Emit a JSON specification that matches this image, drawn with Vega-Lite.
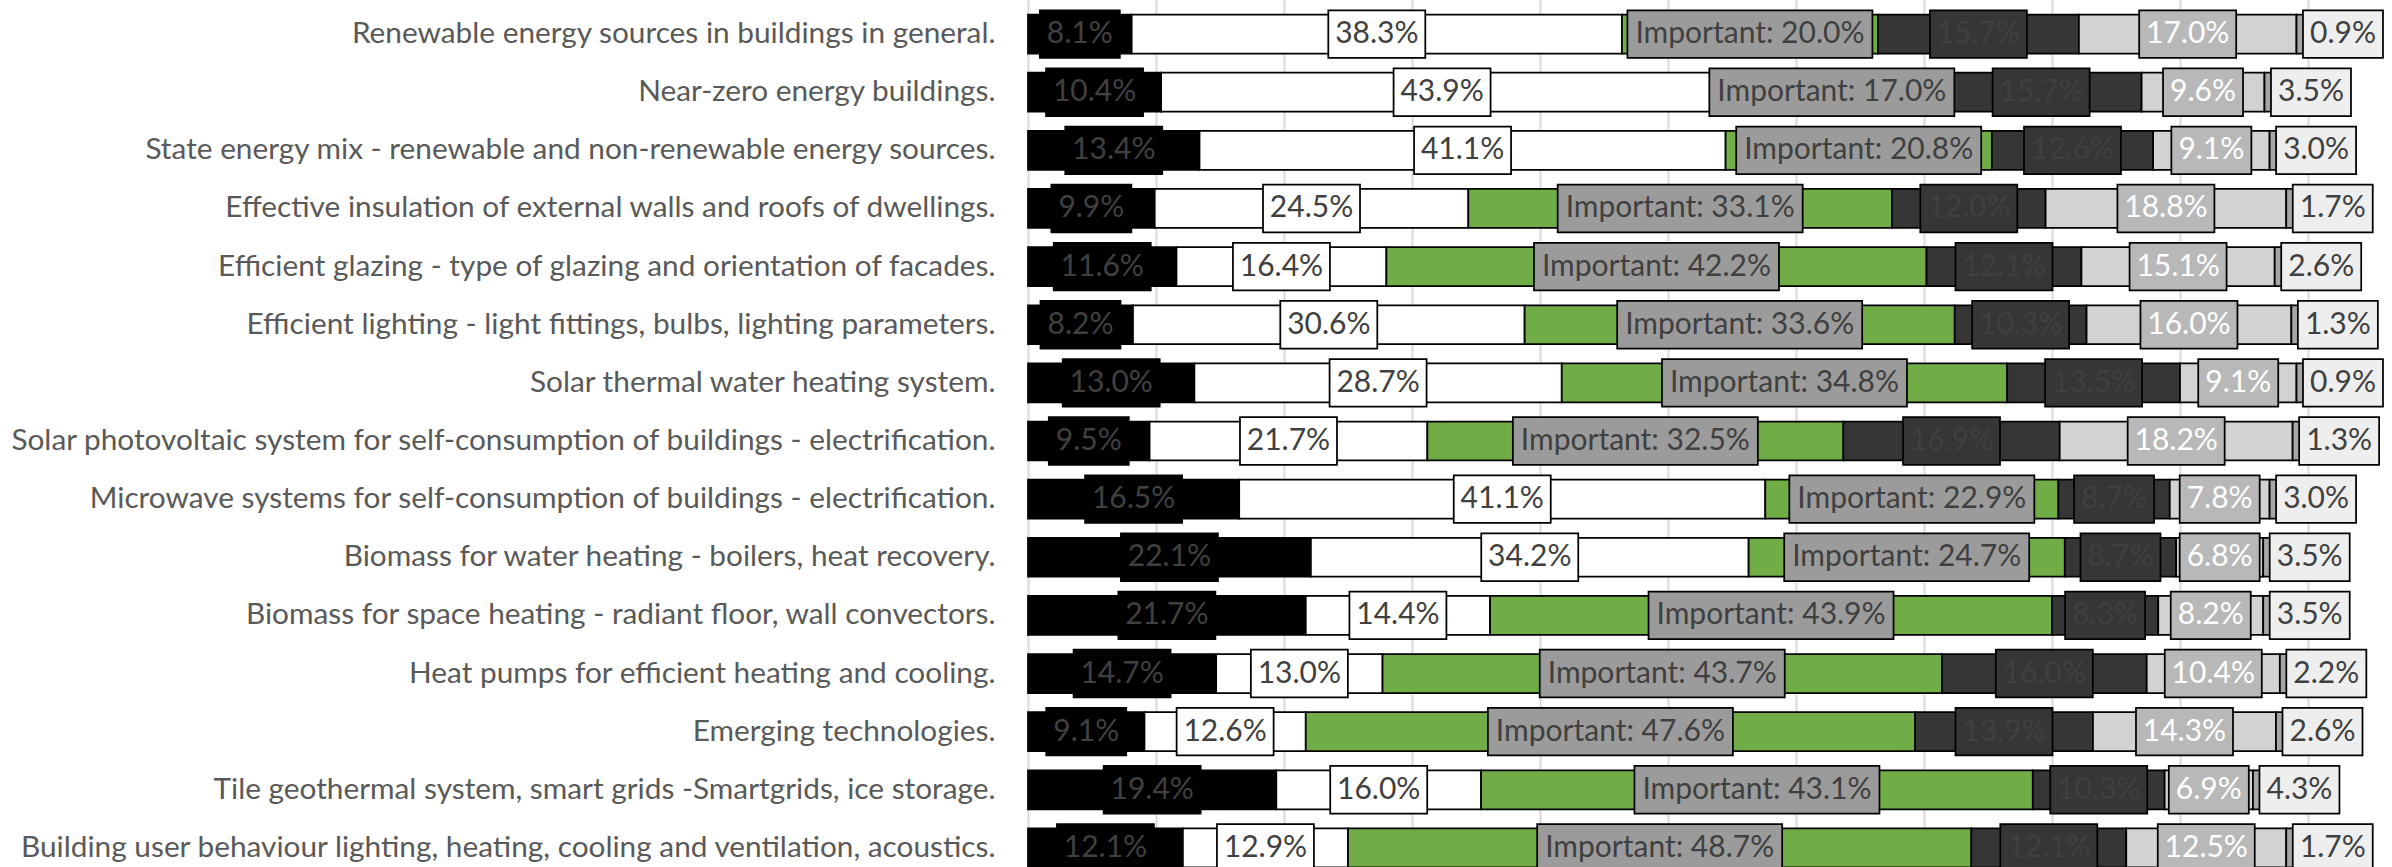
{
  "$schema": "https://vega.github.io/schema/vega-lite/v6.json",
  "width": 1280,
  "height": 862,
  "autosize": {"type": "none"},
  "padding": {"left": 1028, "right": 84, "top": 5, "bottom": 0},
  "background": "white",
  "config": {"view": {"stroke": null}, "font": "Lato"},
  "datasets": {
    "survey": [
      {"task": "Renewable energy sources in buildings in general.", "cat": "Not important", "v": 8.1},
      {"task": "Renewable energy sources in buildings in general.", "cat": "Slightly important", "v": 38.3},
      {"task": "Renewable energy sources in buildings in general.", "cat": "Important", "v": 20.0},
      {"task": "Renewable energy sources in buildings in general.", "cat": "Very important", "v": 15.7},
      {"task": "Renewable energy sources in buildings in general.", "cat": "Essential", "v": 17.0},
      {"task": "Renewable energy sources in buildings in general.", "cat": "No answer", "v": 0.9},
      {"task": "Near-zero energy buildings.", "cat": "Not important", "v": 10.4},
      {"task": "Near-zero energy buildings.", "cat": "Slightly important", "v": 43.9},
      {"task": "Near-zero energy buildings.", "cat": "Important", "v": 17.0},
      {"task": "Near-zero energy buildings.", "cat": "Very important", "v": 15.7},
      {"task": "Near-zero energy buildings.", "cat": "Essential", "v": 9.6},
      {"task": "Near-zero energy buildings.", "cat": "No answer", "v": 3.5},
      {"task": "State energy mix - renewable and non-renewable energy sources.", "cat": "Not important", "v": 13.4},
      {"task": "State energy mix - renewable and non-renewable energy sources.", "cat": "Slightly important", "v": 41.1},
      {"task": "State energy mix - renewable and non-renewable energy sources.", "cat": "Important", "v": 20.8},
      {"task": "State energy mix - renewable and non-renewable energy sources.", "cat": "Very important", "v": 12.6},
      {"task": "State energy mix - renewable and non-renewable energy sources.", "cat": "Essential", "v": 9.1},
      {"task": "State energy mix - renewable and non-renewable energy sources.", "cat": "No answer", "v": 3.0},
      {"task": "Effective insulation of external walls and roofs of dwellings.", "cat": "Not important", "v": 9.9},
      {"task": "Effective insulation of external walls and roofs of dwellings.", "cat": "Slightly important", "v": 24.5},
      {"task": "Effective insulation of external walls and roofs of dwellings.", "cat": "Important", "v": 33.1},
      {"task": "Effective insulation of external walls and roofs of dwellings.", "cat": "Very important", "v": 12.0},
      {"task": "Effective insulation of external walls and roofs of dwellings.", "cat": "Essential", "v": 18.8},
      {"task": "Effective insulation of external walls and roofs of dwellings.", "cat": "No answer", "v": 1.7},
      {"task": "Efficient glazing - type of glazing and orientation of facades.", "cat": "Not important", "v": 11.6},
      {"task": "Efficient glazing - type of glazing and orientation of facades.", "cat": "Slightly important", "v": 16.4},
      {"task": "Efficient glazing - type of glazing and orientation of facades.", "cat": "Important", "v": 42.2},
      {"task": "Efficient glazing - type of glazing and orientation of facades.", "cat": "Very important", "v": 12.1},
      {"task": "Efficient glazing - type of glazing and orientation of facades.", "cat": "Essential", "v": 15.1},
      {"task": "Efficient glazing - type of glazing and orientation of facades.", "cat": "No answer", "v": 2.6},
      {"task": "Efficient lighting - light fittings, bulbs, lighting parameters.", "cat": "Not important", "v": 8.2},
      {"task": "Efficient lighting - light fittings, bulbs, lighting parameters.", "cat": "Slightly important", "v": 30.6},
      {"task": "Efficient lighting - light fittings, bulbs, lighting parameters.", "cat": "Important", "v": 33.6},
      {"task": "Efficient lighting - light fittings, bulbs, lighting parameters.", "cat": "Very important", "v": 10.3},
      {"task": "Efficient lighting - light fittings, bulbs, lighting parameters.", "cat": "Essential", "v": 16.0},
      {"task": "Efficient lighting - light fittings, bulbs, lighting parameters.", "cat": "No answer", "v": 1.3},
      {"task": "Solar thermal water heating system.", "cat": "Not important", "v": 13.0},
      {"task": "Solar thermal water heating system.", "cat": "Slightly important", "v": 28.7},
      {"task": "Solar thermal water heating system.", "cat": "Important", "v": 34.8},
      {"task": "Solar thermal water heating system.", "cat": "Very important", "v": 13.5},
      {"task": "Solar thermal water heating system.", "cat": "Essential", "v": 9.1},
      {"task": "Solar thermal water heating system.", "cat": "No answer", "v": 0.9},
      {"task": "Solar photovoltaic system for self-consumption of buildings - electrification.", "cat": "Not important", "v": 9.5},
      {"task": "Solar photovoltaic system for self-consumption of buildings - electrification.", "cat": "Slightly important", "v": 21.7},
      {"task": "Solar photovoltaic system for self-consumption of buildings - electrification.", "cat": "Important", "v": 32.5},
      {"task": "Solar photovoltaic system for self-consumption of buildings - electrification.", "cat": "Very important", "v": 16.9},
      {"task": "Solar photovoltaic system for self-consumption of buildings - electrification.", "cat": "Essential", "v": 18.2},
      {"task": "Solar photovoltaic system for self-consumption of buildings - electrification.", "cat": "No answer", "v": 1.3},
      {"task": "Microwave systems for self-consumption of buildings - electrification.", "cat": "Not important", "v": 16.5},
      {"task": "Microwave systems for self-consumption of buildings - electrification.", "cat": "Slightly important", "v": 41.1},
      {"task": "Microwave systems for self-consumption of buildings - electrification.", "cat": "Important", "v": 22.9},
      {"task": "Microwave systems for self-consumption of buildings - electrification.", "cat": "Very important", "v": 8.7},
      {"task": "Microwave systems for self-consumption of buildings - electrification.", "cat": "Essential", "v": 7.8},
      {"task": "Microwave systems for self-consumption of buildings - electrification.", "cat": "No answer", "v": 3.0},
      {"task": "Biomass for water heating - boilers, heat recovery.", "cat": "Not important", "v": 22.1},
      {"task": "Biomass for water heating - boilers, heat recovery.", "cat": "Slightly important", "v": 34.2},
      {"task": "Biomass for water heating - boilers, heat recovery.", "cat": "Important", "v": 24.7},
      {"task": "Biomass for water heating - boilers, heat recovery.", "cat": "Very important", "v": 8.7},
      {"task": "Biomass for water heating - boilers, heat recovery.", "cat": "Essential", "v": 6.8},
      {"task": "Biomass for water heating - boilers, heat recovery.", "cat": "No answer", "v": 3.5},
      {"task": "Biomass for space heating - radiant floor, wall convectors.", "cat": "Not important", "v": 21.7},
      {"task": "Biomass for space heating - radiant floor, wall convectors.", "cat": "Slightly important", "v": 14.4},
      {"task": "Biomass for space heating - radiant floor, wall convectors.", "cat": "Important", "v": 43.9},
      {"task": "Biomass for space heating - radiant floor, wall convectors.", "cat": "Very important", "v": 8.3},
      {"task": "Biomass for space heating - radiant floor, wall convectors.", "cat": "Essential", "v": 8.2},
      {"task": "Biomass for space heating - radiant floor, wall convectors.", "cat": "No answer", "v": 3.5},
      {"task": "Heat pumps for efficient heating and cooling.", "cat": "Not important", "v": 14.7},
      {"task": "Heat pumps for efficient heating and cooling.", "cat": "Slightly important", "v": 13.0},
      {"task": "Heat pumps for efficient heating and cooling.", "cat": "Important", "v": 43.7},
      {"task": "Heat pumps for efficient heating and cooling.", "cat": "Very important", "v": 16.0},
      {"task": "Heat pumps for efficient heating and cooling.", "cat": "Essential", "v": 10.4},
      {"task": "Heat pumps for efficient heating and cooling.", "cat": "No answer", "v": 2.2},
      {"task": "Emerging technologies.", "cat": "Not important", "v": 9.1},
      {"task": "Emerging technologies.", "cat": "Slightly important", "v": 12.6},
      {"task": "Emerging technologies.", "cat": "Important", "v": 47.6},
      {"task": "Emerging technologies.", "cat": "Very important", "v": 13.9},
      {"task": "Emerging technologies.", "cat": "Essential", "v": 14.3},
      {"task": "Emerging technologies.", "cat": "No answer", "v": 2.6},
      {"task": "Tile geothermal system, smart grids -Smartgrids, ice storage.", "cat": "Not important", "v": 19.4},
      {"task": "Tile geothermal system, smart grids -Smartgrids, ice storage.", "cat": "Slightly important", "v": 16.0},
      {"task": "Tile geothermal system, smart grids -Smartgrids, ice storage.", "cat": "Important", "v": 43.1},
      {"task": "Tile geothermal system, smart grids -Smartgrids, ice storage.", "cat": "Very important", "v": 10.3},
      {"task": "Tile geothermal system, smart grids -Smartgrids, ice storage.", "cat": "Essential", "v": 6.9},
      {"task": "Tile geothermal system, smart grids -Smartgrids, ice storage.", "cat": "No answer", "v": 4.3},
      {"task": "Building user behaviour lighting, heating, cooling and ventilation, acoustics.", "cat": "Not important", "v": 12.1},
      {"task": "Building user behaviour lighting, heating, cooling and ventilation, acoustics.", "cat": "Slightly important", "v": 12.9},
      {"task": "Building user behaviour lighting, heating, cooling and ventilation, acoustics.", "cat": "Important", "v": 48.7},
      {"task": "Building user behaviour lighting, heating, cooling and ventilation, acoustics.", "cat": "Very important", "v": 12.1},
      {"task": "Building user behaviour lighting, heating, cooling and ventilation, acoustics.", "cat": "Essential", "v": 12.5},
      {"task": "Building user behaviour lighting, heating, cooling and ventilation, acoustics.", "cat": "No answer", "v": 1.7}
    ]
  },
  "data": {"name": "survey"},
  "transform": [
    {"calculate": "indexof(['Not important','Slightly important','Important','Very important','Essential','No answer'], datum.cat)", "as": "ord"},
    {"stack": "v", "groupby": ["task"], "sort": [{"field": "ord", "order": "ascending"}], "as": ["x0", "x1"]},
    {"calculate": "(datum.x0 + datum.x1) / 2", "as": "mid"},
    {"calculate": "(datum.ord == 2 ? 'Important: ' : '') + format(datum.v, '.1f') + '%'", "as": "label"}
  ],
  "encoding": {
    "y": {
      "field": "task", "type": "nominal", "sort": null,
      "scale": {"range": [0, 872], "paddingInner": 0.33, "paddingOuter": 0.165},
      "axis": {"title": null, "domain": false, "ticks": false, "labelFontSize": 29.8, "labelFont": "Lato", "labelColor": "#595959", "labelPadding": 33, "labelLimit": 1100}
    }
  },
  "resolve": {"scale": {"fill": "independent"}},
  "layer": [
    {
      "mark": {"type": "bar", "stroke": "black", "strokeWidth": 1.75},
      "encoding": {
        "x": {"field": "x0", "type": "quantitative", "scale": {"domain": [0, 100], "nice": false},
          "axis": {"values": [0, 10, 20, 30, 40, 50, 60, 70, 80, 90, 100], "labels": false, "ticks": false, "domain": false, "grid": true, "gridColor": "#d9d9d9", "gridWidth": 2, "title": null}},
        "x2": {"field": "x1"},
        "fill": {"field": "cat", "type": "nominal", "legend": null,
          "scale": {"domain": ["Not important", "Slightly important", "Important", "Very important", "Essential", "No answer"],
                    "range": ["#000000", "#ffffff", "#70ad47", "#363636", "#d2d2d2", "#a6a6a6"]}}
      }
    },
    {
      "transform": [{"filter": "datum.ord != 2 && datum.ord != 5 && length(datum.label) == 4"}],
      "mark": {"type": "point", "shape": "M-4,-2.38H4V2.38H-4Z", "size": 400, "filled": true, "opacity": 1, "stroke": "black", "strokeWidth": 1.75},
      "encoding": {
        "x": {"field": "mid", "type": "quantitative", "scale": {"domain": [0, 100], "nice": false}},
        "fill": {"field": "cat", "type": "nominal", "legend": null,
          "scale": {"domain": ["Not important", "Slightly important", "Important", "Very important", "Essential", "No answer"],
                    "range": ["#000000", "#ffffff", "#9b9b9b", "#363636", "#b8b8b8", "#eeeeee"]}}
      }
    },
    {
      "transform": [{"filter": "datum.ord != 2 && datum.ord != 5 && length(datum.label) == 5"}],
      "mark": {"type": "point", "shape": "M-4.85,-2.38H4.85V2.38H-4.85Z", "size": 400, "filled": true, "opacity": 1, "stroke": "black", "strokeWidth": 1.75},
      "encoding": {
        "x": {"field": "mid", "type": "quantitative", "scale": {"domain": [0, 100], "nice": false}},
        "fill": {"field": "cat", "type": "nominal", "legend": null,
          "scale": {"domain": ["Not important", "Slightly important", "Important", "Very important", "Essential", "No answer"],
                    "range": ["#000000", "#ffffff", "#9b9b9b", "#363636", "#b8b8b8", "#eeeeee"]}}
      }
    },
    {
      "transform": [{"filter": "datum.ord == 2"}],
      "mark": {"type": "point", "shape": "M-12.25,-2.38H12.25V2.38H-12.25Z", "size": 400, "filled": true, "opacity": 1, "fill": "#9b9b9b", "stroke": "black", "strokeWidth": 1.75},
      "encoding": {
        "x": {"field": "mid", "type": "quantitative", "scale": {"domain": [0, 100], "nice": false}}
      }
    },
    {
      "transform": [{"filter": "datum.ord == 5"}],
      "mark": {"type": "point", "shape": "M0.65,-2.38H8.65V2.38H0.65Z", "size": 400, "filled": true, "opacity": 1, "fill": "#eeeeee", "stroke": "black", "strokeWidth": 1.75},
      "encoding": {
        "x": {"field": "x0", "type": "quantitative", "scale": {"domain": [0, 100], "nice": false}}
      }
    },
    {
      "transform": [{"filter": "datum.ord != 5"}],
      "mark": {"type": "text", "font": "Lato", "fontSize": 30, "align": "center", "baseline": "middle"},
      "encoding": {
        "x": {"field": "mid", "type": "quantitative", "scale": {"domain": [0, 100], "nice": false}},
        "text": {"field": "label"},
        "color": {"condition": {"test": "datum.ord == 4", "value": "#ffffff"}, "value": "#404040"}
      }
    },
    {
      "transform": [{"filter": "datum.ord == 5"}],
      "mark": {"type": "text", "font": "Lato", "fontSize": 30, "align": "center", "baseline": "middle", "dx": 46.5, "color": "#404040"},
      "encoding": {
        "x": {"field": "x0", "type": "quantitative", "scale": {"domain": [0, 100], "nice": false}},
        "text": {"field": "label"}
      }
    }
  ]
}
